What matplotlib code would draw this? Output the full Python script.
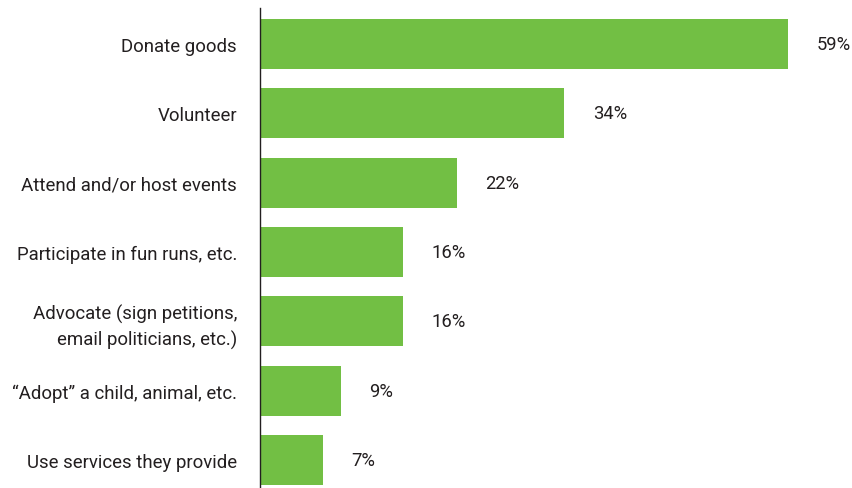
import matplotlib
matplotlib.use("Agg")
import matplotlib.pyplot as plt
from matplotlib import font_manager

categories = ["Donate goods", "Volunteer", "Attend and/or host events",
              "Participate in fun runs, etc.",
              "Advocate (sign petitions,\nemail politicians, etc.)",
              "\u201cAdopt\u201d a child, animal, etc.", "Use services they provide"]
values = [59, 34, 22, 16, 16, 9, 7]
value_labels = ["59%", "34%", "22%", "16%", "16%", "9%", "7%"]

names = {f.name for f in font_manager.fontManager.ttflist}
fam = "Liberation Sans Narrow" if "Liberation Sans Narrow" in names else "Roboto"
plt.rcParams['font.family'] = [fam, 'DejaVu Sans']

W, H = 852, 489
fig = plt.figure(figsize=(W/100, H/100), dpi=100)
ax = fig.add_axes([260/W, 0, (W-260)/W, 1 - 9/H])

green = "#72bf44"
txt = "#231f20"
y = list(range(len(categories)))
ax.barh(y, values, height=0.72, color=green, left=0)
ax.set_ylim(6 + 28/69.33, -36/69.33)
ax.set_xlim(0, (W-260)/8.95)

for yi, v, lab in zip(y, values, value_labels):
    ax.text(v + 3.2, yi, lab, va='center', ha='left', fontsize=13.2, color=txt)

ax.set_yticks(y)
ax.set_yticklabels(categories, fontsize=13.4, color=txt, ha='right',
                   multialignment='right', linespacing=1.45)
ax.tick_params(axis='y', length=0, pad=16.5)
ax.set_xticks([])
for s in ['top', 'right', 'bottom']:
    ax.spines[s].set_visible(False)
ax.spines['left'].set_color(txt)
ax.spines['left'].set_linewidth(1.0)

fig.savefig("out.png", dpi=100)
